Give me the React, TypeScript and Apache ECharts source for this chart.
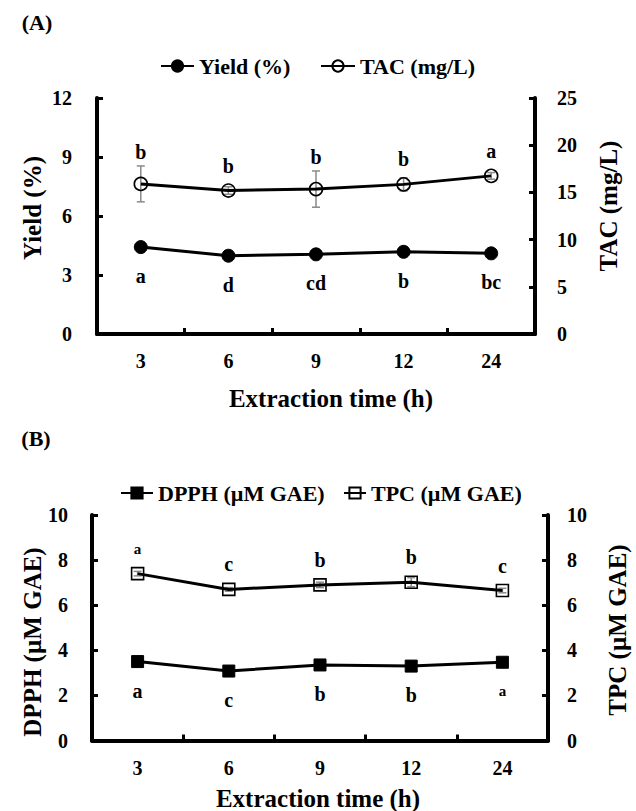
import React, { useEffect, useRef } from 'react';
import * as echarts from 'echarts';

const categories = ['3', '6', '9', '12', '24'];

// Panel A
const yieldValues = [4.42, 3.98, 4.05, 4.18, 4.1];
const yieldLetters = ['a', 'd', 'cd', 'b', 'bc'];
const tacValues = [15.9, 15.2, 15.35, 15.85, 16.75];
const tacErrors = [1.9, 0.4, 1.92, 0.7, 0.35];
const tacLetters = ['b', 'b', 'b', 'b', 'a'];

// Panel B
const dpphValues = [3.5, 3.08, 3.35, 3.3, 3.47];
const dpphLetters = ['a', 'c', 'b', 'b', 'a'];
const tpcValues = [7.4, 6.7, 6.9, 7.02, 6.65];
const tpcErrors = [0.1, 0.08, 0.12, 0.2, 0.1];
const tpcLetters = ['a', 'c', 'b', 'b', 'c'];

const FONT_TICK = 'serif';
const FONT_LEG = 'Liberation Serif';
const FONT_G = "'Liberation Serif'";
const FONT_LET = 'Times New Roman';

const axisLine = { show: true, lineStyle: { color: '#000', width: 4 } };
const axisTick = { show: true, inside: true, length: 6, lineStyle: { color: '#000', width: 3 } };
const lbl = (margin: number) => ({
  color: '#000',
  fontFamily: FONT_TICK,
  fontWeight: 'bold',
  fontSize: 20,
  margin,
});

function yAx(gridIndex: number, position: string, max: number, interval: number, margin: number) {
  return {
    type: 'value',
    gridIndex,
    position,
    min: 0,
    max,
    interval,
    axisLine,
    axisTick,
    axisLabel: lbl(margin),
    splitLine: { show: false },
  };
}

function xAx(gridIndex: number) {
  return {
    type: 'category',
    gridIndex,
    data: categories,
    boundaryGap: true,
    axisLine,
    axisTick: { ...axisTick, alignWithLabel: false, interval: 0 },
    axisLabel: { ...lbl(17), interval: 0 },
    splitLine: { show: false },
  };
}

function lineSeries(name: string, xi: number, yi: number, data: number[], symbol: string, size: number, filled: boolean) {
  return {
    type: 'line',
    name,
    xAxisIndex: xi,
    yAxisIndex: yi,
    data,
    symbol,
    symbolSize: size,
    z: 3,
    lineStyle: { color: '#000', width: 3 },
    itemStyle: filled
      ? { color: '#000', borderColor: '#000', borderWidth: 1 }
      : { color: 'rgba(0,0,0,0)', borderColor: '#000', borderWidth: 1.6 },
    emphasis: { disabled: true },
    silent: true,
  };
}

function errorBars(xi: number, yi: number, values: number[], errors: number[]) {
  return {
    type: 'custom',
    xAxisIndex: xi,
    yAxisIndex: yi,
    z: 1,
    silent: true,
    data: values.map((v, i) => [i, v, errors[i]]),
    renderItem: (params: any, api: any) => {
      const i = api.value(0);
      const v = api.value(1);
      const e = api.value(2);
      const top = api.coord([i, v + e]);
      const bot = api.coord([i, v - e]);
      const s = { stroke: '#8a8a8a', lineWidth: 1.5 };
      return {
        type: 'group',
        children: [
          { type: 'line', shape: { x1: top[0], y1: top[1], x2: bot[0], y2: bot[1] }, style: s },
          { type: 'line', shape: { x1: top[0] - 4, y1: top[1], x2: top[0] + 4, y2: top[1] }, style: s },
          { type: 'line', shape: { x1: bot[0] - 4, y1: bot[1], x2: bot[0] + 4, y2: bot[1] }, style: s },
        ],
      };
    },
  };
}

function letterSeries(
  xi: number,
  yi: number,
  values: number[],
  errors: number[] | null,
  letters: string[],
  above: boolean,
  smallIdx: number[]
) {
  return {
    type: 'custom',
    xAxisIndex: xi,
    yAxisIndex: yi,
    z: 6,
    silent: true,
    data: values.map((v, i) => [i, v, errors ? errors[i] : 0]),
    renderItem: (params: any, api: any) => {
      const idx = params.dataIndex;
      const i = api.value(0);
      const v = api.value(1);
      const e = api.value(2);
      const p = api.coord([i, v]);
      let y: number;
      if (above) {
        const t = api.coord([i, v + e]);
        y = Math.min(p[1] - 25, t[1] - 14);
      } else {
        y = p[1] + 29;
      }
      const size = smallIdx.indexOf(idx) >= 0 ? 15 : 20;
      return {
        type: 'text',
        x: p[0],
        y,
        style: {
          text: letters[idx],
          font: `bold ${size}px ${FONT_LET}`,
          fill: '#000',
          align: 'center',
          verticalAlign: 'middle',
        },
      };
    },
  };
}

function legend(name: string, left: number, top: number, itemWidth: number) {
  return {
    data: [name],
    left,
    top,
    itemWidth,
    itemHeight: 14,
    selectedMode: false,
    padding: 0,
    textStyle: { fontFamily: FONT_LEG, fontWeight: 'bold', fontSize: 22, color: '#000' },
  };
}

function gText(text: string, x: number, y: number, size: number, rotate = false) {
  return {
    type: 'text',
    x,
    y,
    rotation: rotate ? Math.PI / 2 : 0,
    silent: true,
    style: {
      text,
      font: `bold ${size}px ${FONT_G}`,
      fill: '#000',
      align: 'center',
      verticalAlign: 'middle',
    },
  };
}

const option: any = {
  animation: false,
  backgroundColor: '#fff',
  grid: [
    { left: 97, top: 98, width: 438, height: 236 },
    { left: 92, top: 515, width: 456, height: 225.5 },
  ],
  xAxis: [xAx(0), xAx(1)],
  yAxis: [
    yAx(0, 'left', 12, 3, 25),
    yAx(0, 'right', 25, 5, 22),
    yAx(1, 'left', 10, 2, 24),
    yAx(1, 'right', 10, 2, 19),
  ],
  legend: [
    legend('Yield (%)', 160, 55, 33),
    legend('TAC (mg/L)', 320, 55, 34),
    legend('DPPH (µM GAE)', 120, 482, 32),
    legend('TPC (µM GAE)', 343, 482, 22),
  ],
  series: [
    errorBars(0, 1, tacValues, tacErrors),
    lineSeries('Yield (%)', 0, 0, yieldValues, 'circle', 13, true),
    lineSeries('TAC (mg/L)', 0, 1, tacValues, 'circle', 13, false),
    letterSeries(0, 0, yieldValues, null, yieldLetters, false, []),
    letterSeries(0, 1, tacValues, tacErrors, tacLetters, true, []),
    errorBars(1, 3, tpcValues, tpcErrors),
    lineSeries('DPPH (µM GAE)', 1, 2, dpphValues, 'rect', 12, true),
    lineSeries('TPC (µM GAE)', 1, 3, tpcValues, 'rect', 12, false),
    letterSeries(1, 2, dpphValues, null, dpphLetters, false, [4]),
    letterSeries(1, 3, tpcValues, tpcErrors, tpcLetters, true, [0]),
  ],
  graphic: [
    gText('(A)', 37, 22, 22),
    gText('(B)', 36, 438, 22),
    gText('Extraction time (h)', 331, 398, 25),
    gText('Extraction time (h)', 318, 798, 25),
    gText('Yield (%)', 32, 208, 25, true),
    gText('TAC (mg/L)', 608, 206, 25, true),
    gText('DPPH (µM GAE)', 32, 642, 25, true),
    gText('TPC (µM GAE)', 617, 630, 25, true),
  ],
};

export default function App() {
  const ref = useRef<HTMLDivElement>(null);
  useEffect(() => {
    const chart = echarts.init(ref.current!, undefined, { renderer: 'svg' });
    chart.setOption(option);
    return () => chart.dispose();
  }, []);
  return (
    <div
      ref={ref}
      style={{ position: 'absolute', left: 0, top: 0, width: 636, height: 811, background: '#fff' }}
    />
  );
}
